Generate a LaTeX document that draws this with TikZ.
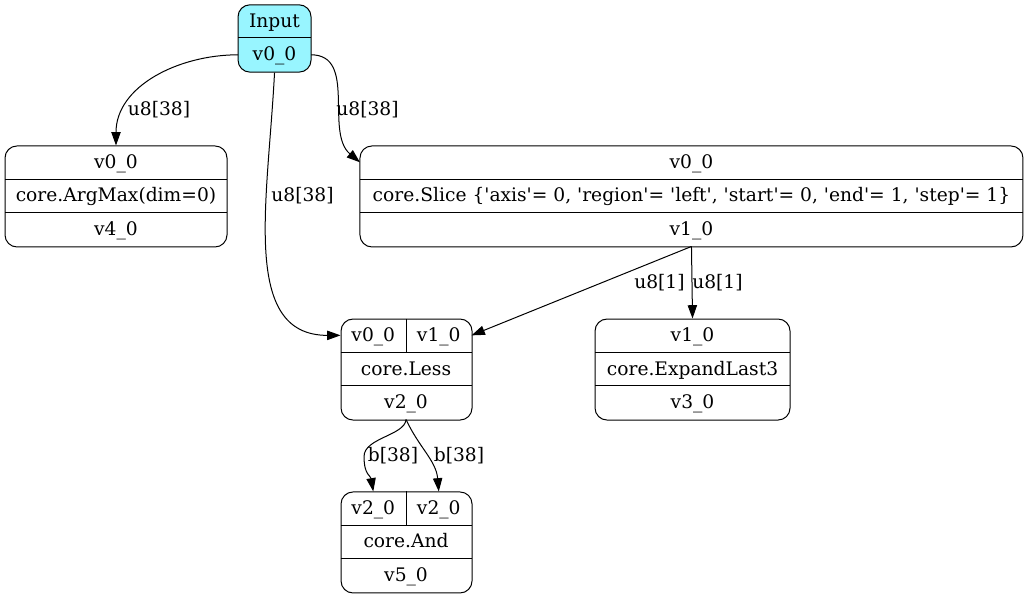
\documentclass[tikz,border=0pt]{standalone}
\usepackage{fontspec}
\setmainfont{DejaVu Serif}
\usetikzlibrary{positioning,arrows.meta}
\definecolor{inputcyan}{HTML}{98F5FF}
\newcommand{\sq}{\textquotesingle}

\begin{document}
\begin{tikzpicture}[
  x=1pt, y=1pt,
  every node/.style={font=\fontsize{14}{16}\selectfont},
  box/.style={draw, rounded corners=9pt, line width=0.75pt, minimum height=75.75pt, inner sep=0pt},
  row/.style={inner sep=0pt, outer sep=0pt, minimum height=25.25pt, text height=9pt, text depth=0pt},
  lbl/.style={inner sep=1pt},
  edge/.style={-{Triangle[length=10pt,width=7pt]}, line width=0.75pt},
  rule/.style={line width=0.75pt}
]
  \useasboundingbox (0,0) rectangle (771.75,450.75);

  % input record
  \node[box, fill=inputcyan, minimum width=54.75pt, minimum height=50.5pt] (input) at (205.9,421.9) {};
  \node[row, minimum width=54.75pt, below=0pt of input.north] (input-name) {Input};
  \node[row, minimum width=54.75pt, below=0pt of input-name] (input-v0) {v0\_0};
  \draw[rule] (input-name.south west) -- (input-name.south east);

  % argmax record
  \node[box, minimum width=166.5pt] (argmax) at (87,303.4) {};
  \node[row, minimum width=166.5pt, below=0pt of argmax.north] (argmax-in) {v0\_0};
  \node[row, minimum width=166.5pt, below=0pt of argmax-in] (argmax-op) {core.ArgMax(dim=0)};
  \node[row, minimum width=166.5pt, below=0pt of argmax-op] (argmax-out) {v4\_0};
  \draw[rule] (argmax-in.south west) -- (argmax-in.south east);
  \draw[rule] (argmax-op.south west) -- (argmax-op.south east);

  % slice record
  \node[box, minimum width=497.25pt] (slice) at (518.6,303.4) {};
  \node[row, minimum width=497.25pt, below=0pt of slice.north] (slice-in) {v0\_0};
  \node[row, minimum width=497.25pt, below=0pt of slice-in] (slice-op)
    {core.Slice \{\sq axis\sq= 0, \sq region\sq= \sq left\sq, \sq start\sq= 0, \sq end\sq= 1, \sq step\sq= 1\}};
  \node[row, minimum width=497.25pt, below=0pt of slice-op] (slice-out) {v1\_0};
  \draw[rule] (slice-in.south west) -- (slice-in.south east);
  \draw[rule] (slice-op.south west) -- (slice-op.south east);

  % less record
  \node[box, minimum width=98.25pt] (less) at (304.9,173.6) {};
  \node[row, minimum width=49.125pt, below right=0pt of less.north west] (less-a) {v0\_0};
  \node[row, minimum width=49.125pt, right=0pt of less-a] (less-b) {v1\_0};
  \node[row, minimum width=98.25pt, below right=0pt of less-a.south west] (less-op) {core.Less};
  \node[row, minimum width=98.25pt, below=0pt of less-op] (less-out) {v2\_0};
  \draw[rule] (less-a.north east) -- (less-a.south east);
  \draw[rule] (less-a.south west) -- (less-b.south east);
  \draw[rule] (less-op.south west) -- (less-op.south east);

  % expand record
  \node[box, minimum width=146.25pt] (expand) at (519.4,173.6) {};
  \node[row, minimum width=146.25pt, below=0pt of expand.north] (expand-in) {v1\_0};
  \node[row, minimum width=146.25pt, below=0pt of expand-in] (expand-op) {core.ExpandLast3};
  \node[row, minimum width=146.25pt, below=0pt of expand-op] (expand-out) {v3\_0};
  \draw[rule] (expand-in.south west) -- (expand-in.south east);
  \draw[rule] (expand-op.south west) -- (expand-op.south east);

  % and record
  \node[box, minimum width=98.25pt] (and) at (304.9,43.9) {};
  \node[row, minimum width=49.125pt, below right=0pt of and.north west] (and-a) {v2\_0};
  \node[row, minimum width=49.125pt, right=0pt of and-a] (and-b) {v2\_0};
  \node[row, minimum width=98.25pt, below right=0pt of and-a.south west] (and-op) {core.And};
  \node[row, minimum width=98.25pt, below=0pt of and-op] (and-out) {v5\_0};
  \draw[rule] (and-a.north east) -- (and-a.south east);
  \draw[rule] (and-a.south west) -- (and-b.south east);
  \draw[rule] (and-op.south west) -- (and-op.south east);

  % edges
  \draw[edge] (input-v0.west) to[out=180,in=90] (argmax.north);
  \draw[edge] (input.south) .. controls +(-5,-97) and +(-75,0) .. (less-a.west);
  \draw[edge] (input-v0.east) to[out=0,in=140] (slice-in.west);
  \draw[edge] (slice-out.south) -- (less-b.east);
  \draw[edge] (slice-out.south) -- (expand.north);
  \draw[edge] (less-out.south) .. controls +(-1,-12) and +(0,14) .. ++(-31.5,-27.75)
    .. controls +(0,-14) and +(-2,12) .. (and-a.north);
  \draw[edge] (less-out.south) to[out=-65,in=95] (and-b.north);

  % edge labels
  \node[lbl] (lbl-argmax) at (119.25,368.25) {u8[38]};
  \node[lbl] (lbl-less) at (226.9,303.75) {u8[38]};
  \node[lbl] (lbl-slice) at (275.6,368.25) {u8[38]};
  \node[lbl] (lbl-lessb) at (494.6,238.5) {u8[1]};
  \node[lbl] (lbl-expand) at (538.1,238.5) {u8[1]};
  \node[lbl] (lbl-anda) at (294.75,108.75) {b[38]};
  \node[lbl] (lbl-andb) at (344.25,108.75) {b[38]};
\end{tikzpicture}
\end{document}
